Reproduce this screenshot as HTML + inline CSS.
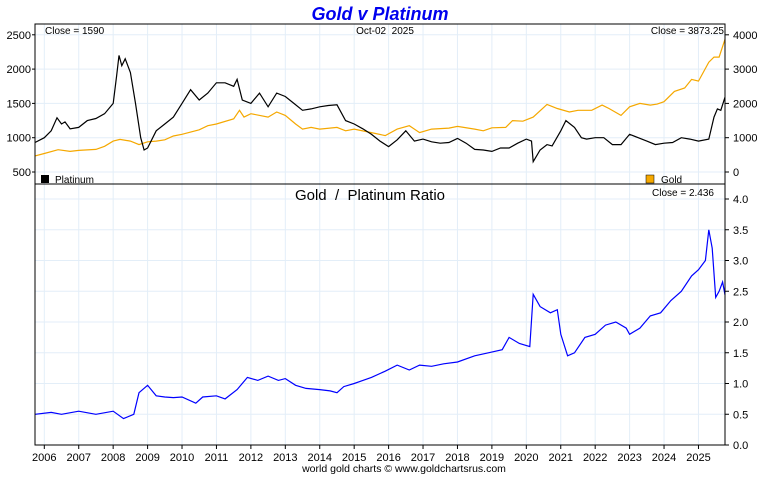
<!DOCTYPE html>
<html><head><meta charset="utf-8"><style>
body{margin:0;background:#fff;}
svg text{font-family:"Liberation Sans",sans-serif;}
</style></head><body>
<svg id="c" width="760" height="475" xmlns="http://www.w3.org/2000/svg">
<text x="380" y="20" text-anchor="middle" font-size="18" font-weight="bold" font-style="italic" fill="#0000ee">Gold v Platinum</text>
<g id="grid"></g>
<g id="series"></g>
<rect x="35" y="24" width="690" height="160" fill="none" stroke="#000"/>
<rect x="35" y="184" width="690" height="261" fill="none" stroke="#000"/>
<text x="45" y="34" font-size="10">Close = 1590</text>
<text x="385" y="34" text-anchor="middle" font-size="10">Oct-02&#160; 2025</text>
<text x="724" y="34" text-anchor="end" font-size="10">Close = 3873.25</text>
<rect x="41" y="175" width="8" height="8" fill="#000"/>
<text x="55" y="183" font-size="10">Platinum</text>
<rect x="646" y="175" width="8" height="8" fill="#f5a800" stroke="#000" stroke-width="0.5"/>
<text x="661" y="183" font-size="10">Gold</text>
<text x="370" y="200" text-anchor="middle" font-size="15">Gold&#160; /&#160; Platinum Ratio</text>
<text x="714" y="196" text-anchor="end" font-size="10">Close = 2.436</text>
<text x="404" y="472" text-anchor="middle" font-size="10.5">world gold charts © www.goldchartsrus.com</text>
<g id="axes"></g>
</svg>
<script>
const years=[2006,2007,2008,2009,2010,2011,2012,2013,2014,2015,2016,2017,2018,2019,2020,2021,2022,2023,2024,2025];
const leftTicks=[2500,2000,1500,1000,500];
const rightTicks=[4000,3000,2000,1000,0];
const ratioTicks=[4.0,3.5,3.0,2.5,2.0,1.5,1.0,0.5,0.0];
const platT=[2005.73,2006.0,2006.2,2006.37,2006.5,2006.6,2006.75,2007.0,2007.25,2007.5,2007.75,2008.0,2008.1,2008.17,2008.25,2008.35,2008.5,2008.65,2008.8,2008.9,2009.0,2009.25,2009.5,2009.75,2010.0,2010.25,2010.5,2010.75,2011.0,2011.25,2011.5,2011.6,2011.75,2012.0,2012.25,2012.5,2012.75,2013.0,2013.25,2013.5,2013.75,2014.0,2014.25,2014.5,2014.75,2015.0,2015.25,2015.5,2015.75,2016.0,2016.25,2016.5,2016.75,2017.0,2017.25,2017.5,2017.75,2018.0,2018.25,2018.5,2018.75,2019.0,2019.25,2019.5,2019.75,2020.0,2020.15,2020.2,2020.4,2020.6,2020.75,2021.0,2021.15,2021.4,2021.6,2021.75,2022.0,2022.25,2022.5,2022.75,2023.0,2023.25,2023.5,2023.75,2024.0,2024.25,2024.5,2024.75,2025.0,2025.3,2025.45,2025.55,2025.65,2025.77];
const platV=[930,1000,1100,1290,1200,1230,1130,1150,1250,1280,1350,1500,1900,2200,2050,2150,1950,1500,1000,820,850,1100,1200,1300,1500,1700,1550,1650,1800,1800,1750,1850,1550,1500,1650,1450,1650,1600,1500,1400,1420,1450,1470,1480,1250,1200,1130,1050,950,870,970,1100,950,980,940,920,930,990,920,830,820,800,850,850,920,980,950,650,820,900,880,1100,1250,1150,1000,980,1000,1000,900,900,1050,1000,950,900,920,930,1000,980,950,980,1300,1420,1400,1590];
const goldT=[2005.73,2006.0,2006.4,2006.75,2007.0,2007.5,2007.75,2008.0,2008.2,2008.5,2008.75,2009.0,2009.25,2009.5,2009.75,2010.0,2010.5,2010.75,2011.0,2011.5,2011.67,2011.8,2012.0,2012.5,2012.75,2013.0,2013.3,2013.5,2013.75,2014.0,2014.5,2014.75,2015.0,2015.5,2015.9,2016.25,2016.6,2016.9,2017.25,2017.75,2018.0,2018.5,2018.75,2019.0,2019.4,2019.6,2019.9,2020.2,2020.6,2020.9,2021.25,2021.5,2021.9,2022.2,2022.4,2022.75,2023.0,2023.3,2023.6,2023.8,2024.0,2024.3,2024.6,2024.8,2025.0,2025.3,2025.45,2025.6,2025.77];
const goldV=[470,540,650,600,630,660,750,900,950,900,800,880,900,940,1050,1100,1230,1350,1400,1550,1800,1600,1700,1600,1750,1650,1400,1250,1300,1250,1300,1200,1250,1150,1060,1250,1350,1150,1250,1280,1330,1250,1200,1290,1300,1500,1480,1600,1970,1850,1750,1800,1800,1950,1850,1650,1900,2000,1950,1980,2050,2350,2450,2700,2650,3200,3350,3350,3870];
const ratioT=[2005.73,2006.2,2006.5,2007.0,2007.5,2008.0,2008.3,2008.6,2008.75,2009.0,2009.25,2009.5,2009.75,2010.0,2010.4,2010.6,2011.0,2011.25,2011.6,2011.9,2012.2,2012.5,2012.8,2013.0,2013.3,2013.6,2014.0,2014.3,2014.5,2014.7,2015.0,2015.5,2015.9,2016.25,2016.6,2016.9,2017.25,2017.6,2018.0,2018.5,2018.9,2019.3,2019.5,2019.8,2020.1,2020.2,2020.4,2020.7,2020.9,2021.0,2021.2,2021.4,2021.7,2022.0,2022.3,2022.6,2022.9,2023.0,2023.3,2023.6,2023.9,2024.2,2024.5,2024.8,2025.0,2025.2,2025.3,2025.4,2025.5,2025.6,2025.7,2025.77];
const ratioV=[0.5,0.53,0.5,0.55,0.5,0.55,0.43,0.5,0.85,0.97,0.8,0.78,0.77,0.78,0.68,0.78,0.8,0.75,0.9,1.1,1.05,1.12,1.05,1.08,0.97,0.92,0.9,0.88,0.85,0.95,1.0,1.1,1.2,1.3,1.22,1.3,1.28,1.32,1.35,1.45,1.5,1.55,1.75,1.65,1.6,2.45,2.25,2.15,2.2,1.8,1.45,1.5,1.75,1.8,1.95,2.0,1.9,1.8,1.9,2.1,2.15,2.35,2.5,2.75,2.85,3.0,3.5,3.2,2.4,2.5,2.65,2.44];

const NS="http://www.w3.org/2000/svg";
const L=35,R=725;
function xS(t){return 44.3+(t-2006)*34.43;}
function yPlat(v){return 172-(v-500)/500*34.3;}
function yGold(v){return 172-v/1000*34.3;}
function yRatio(v){return 445-v*61.5;}
function mk(tag,attrs,parent){const e=document.createElementNS(NS,tag);for(const k in attrs)e.setAttribute(k,attrs[k]);parent.appendChild(e);return e;}
const grid=document.getElementById('grid'),ser=document.getElementById('series'),axes=document.getElementById('axes');
const gc="#e3eef8";
years.forEach(y=>{
  const x=xS(y);
  const g1=mk('line',{x1:x,x2:x,y1:24,y2:184,stroke:gc},grid);
  
  
  const g2=mk('line',{x1:x,x2:x,y1:184,y2:445,stroke:gc},grid);
  
  
  const tk=mk('line',{x1:x,x2:x,y1:445,y2:449,stroke:'#000'},axes);
  
  
  const t=mk('text',{x:x,y:461,'text-anchor':'middle','font-size':11},axes);
  t.textContent=y;
  
  
});
leftTicks.forEach(v=>{
  const y=yPlat(v);
  const g=mk('line',{x1:L,x2:R,y1:y,y2:y,stroke:gc},grid);
  
  
  const tk=mk('line',{x1:L-3,x2:L,y1:y,y2:y,stroke:'#000'},axes);
  
  
  const t=mk('text',{x:L-4,y:y+4,'text-anchor':'end','font-size':11},axes);
  t.textContent=v;
  
  
});
rightTicks.forEach(v=>{
  const y=yGold(v);
  const tk=mk('line',{x1:R,x2:R+4,y1:y,y2:y,stroke:'#000'},axes);
  
  
  const t=mk('text',{x:R+8,y:y+4,'font-size':11},axes);
  t.textContent=v;
  
  
});
ratioTicks.forEach(v=>{
  const y=yRatio(v);
  const g=mk('line',{x1:L,x2:R,y1:y,y2:y,stroke:gc},grid);
  
  
  const tk=mk('line',{x1:R,x2:R+4,y1:y,y2:y,stroke:'#000'},axes);
  
  
  const t=mk('text',{x:R+8,y:y+4,'font-size':11},axes);
  t.textContent=v.toFixed(1);
  
  
});
function line(ts,vs,yf){return ts.map((t,i)=>(i?'L':'M')+xS(t).toFixed(1)+','+yf(vs[i]).toFixed(1)).join('');}
const gp=mk('path',{d:line(goldT,goldV,yGold),fill:'none',stroke:'#f5a800','stroke-width':1.2},ser);


const pp=mk('path',{d:line(platT,platV,yPlat),fill:'none',stroke:'#000','stroke-width':1.2},ser);


const rp=mk('path',{d:line(ratioT,ratioV,yRatio),fill:'none',stroke:'#0000ff','stroke-width':1.2},ser);


</script>
</body></html>
